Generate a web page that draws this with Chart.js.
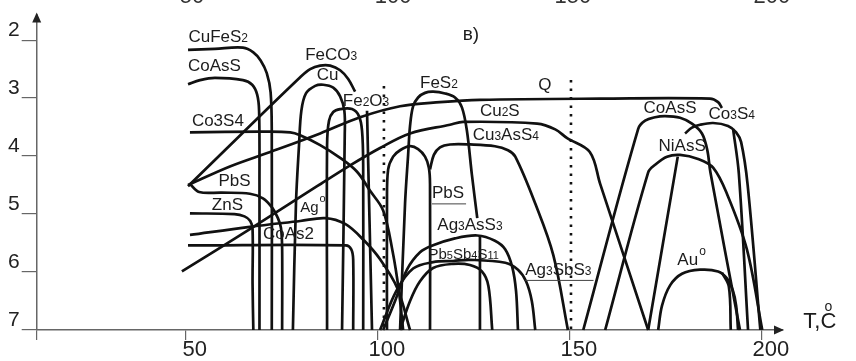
<!DOCTYPE html>
<html>
<head>
<meta charset="utf-8">
<script src="https://cdn.jsdelivr.net/npm/chart.js@4.4.1/dist/chart.umd.min.js"></script>
<style>
  html, body { margin: 0; padding: 0; background: #fff; }
</style>
</head>
<body>
<canvas id="chart" width="856" height="361"></canvas>
<script>
const FONT = "'Liberation Sans', Arial, sans-serif";

// axis ticks
const tempTicks = [50, 100, 150, 200];
const levelTicks = [2, 3, 4, 5, 6, 7];

// stability curves, [T °C, level]
const cuFeS2 = [[50.6,2.17],[57.6,2.15],[64.9,2.13],[67.6,2.21],[69.5,2.35],[71.1,2.57],[72.1,2.9],[72.4,3.6],[72.4,7.0]];
const coAsSLeft = [[50.6,2.76],[53.7,2.69],[57.6,2.65],[64.9,2.69],[67.3,2.77],[68.6,2.94],[69.1,3.22],[69.2,4.5],[69.2,7.0]];
const co3S4Left = [[51.1,3.59],[69.3,3.58],[77.2,3.59],[79.8,3.64],[85.0,3.81],[90.2,4.03],[94.6,4.27],[98.0,4.60],[101.4,4.94],[103.9,5.66],[105.5,6.33],[106.6,7.0]];
const feCO3 = [[50.6,4.52],[64.2,3.64],[79.8,2.64],[82.4,2.50],[85.0,2.44],[87.6,2.44],[90.2,2.52],[92.3,2.67],[94.1,2.89]];
const quartz = [[50.6,4.50],[61.5,4.18],[72.0,3.93],[85.0,3.61],[95.4,3.33],[105.8,3.14],[116.2,3.07],[126.6,3.03],[157.9,3.01],[186.5,3.01],[188.6,3.07],[189.6,3.17]];
const pbSLeft = [[51.1,4.48],[53.5,4.62],[59.4,4.63],[66.7,4.65],[70.1,4.73],[72.5,4.89],[74.0,5.07],[74.8,5.24],[75.1,5.6],[75.1,7.0]];
const znS = [[51.1,4.99],[62.7,5.00],[65.3,5.04],[66.8,5.12],[67.4,5.26],[67.4,6.2],[67.6,7.0]];
const ag = [[51.1,5.36],[66.7,5.22],[79.8,5.12],[86.3,5.07],[91.5,5.17],[96.2,5.44],[100.6,5.78],[105.1,6.28],[108.4,7.0]];
const coAs2 = [[50.6,5.54],[91.7,5.54],[93.1,5.61],[93.6,5.79],[93.6,7.0]];
const cu2S = [[49.0,5.99],[66.7,5.26],[84.2,4.52],[92.8,4.16],[100.6,3.86],[108.4,3.61],[118.8,3.46],[122.2,3.41],[141.5,3.44],[146.2,3.54],[149.3,3.69],[155.2,3.93],[157.9,4.48],[170.4,7.0]];
const cu = [[77.9,7.0],[78.7,4.82],[79.5,3.81],[80.1,3.22],[81.3,2.92],[83.7,2.79],[85.8,2.77],[88.4,2.82],[90.2,2.97],[91.3,3.22],[91.4,3.64],[90.7,7.0]];
const fe2O3 = [[86.8,7.0],[86.8,3.81],[87.3,3.39],[88.4,3.24],[90.2,3.19],[93.3,3.19],[95.1,3.31],[95.9,3.56],[96.2,4.15],[96.2,7.0]];
const edge98 = [[97.2,3.22],[98.5,7.0]];
const arch108 = [[102.4,7.0],[102.4,4.82],[102.7,4.23],[104.0,4.01],[105.8,3.90],[108.4,3.83],[110.5,3.88],[112.3,4.01],[113.3,4.20],[113.6,4.48],[113.6,7.0]];
const feS2 = [[105.8,7.0],[107.1,4.82],[107.9,3.98],[108.4,3.48],[109.2,3.14],[110.5,2.99],[112.3,2.91],[114.4,2.89],[117.5,2.92],[120.1,2.99],[121.9,3.16],[123.2,3.56],[124.5,4.32],[125.9,5.07]];
const cu3AsS4 = [[113.6,4.23],[114.6,3.98],[116.2,3.85],[118.8,3.80],[124.0,3.80],[130.5,3.83],[133.9,3.90],[135.8,4.01],[141.0,4.82],[145.7,5.71],[149.5,7.0]];
const ag3AsS3 = [[101.4,7.0],[104.5,6.50],[107.6,5.96],[111.0,5.66],[114.4,5.54],[120.1,5.42],[125.9,5.37],[130.5,5.46],[133.2,5.61],[135.0,5.91],[136.0,6.33],[136.5,7.0]];
const pb5Sb4S11 = [[100.6,7.0],[104.8,6.33],[109.2,5.94],[114.4,5.83],[119.6,5.81],[124.0,5.79],[133.2,5.84],[136.5,5.96],[138.6,6.16],[140.1,6.50],[141.0,7.0]];
const innerArch = [[105.8,7.0],[108.4,6.50],[111.0,6.16],[114.4,5.93],[119.6,5.86],[124.0,5.88],[127.1,5.99],[128.8,6.24],[129.8,7.0]];
const edge126 = [[126.6,5.37],[126.6,7.0]];
const coAsSRight = [[153.5,7.0],[167.8,3.53],[169.6,3.39],[172.2,3.33],[174.8,3.31],[178.7,3.34],[181.8,3.44],[184.4,3.61],[185.8,3.90],[186.6,4.28],[194.3,7.0]];
const niAsS = [[159.2,7.0],[170.4,4.28],[172.2,4.15],[175.3,4.01],[178.7,3.98],[183.4,4.05],[187.3,4.20],[190.9,4.65],[196.1,5.61],[200.1,7.0]];
const niAsSEdge = [[178.1,4.01],[170.4,7.0]];
const au = [[173.0,7.0],[174.0,6.58],[176.1,6.23],[179.2,6.03],[183.9,5.96],[188.6,5.99],[190.9,6.11],[192.5,6.33],[193.3,6.58],[193.8,7.0]];
const auEdge = [[189.6,6.01],[191.4,6.25],[191.9,7.0]];
const co3S4Right = [[180.0,3.61],[181.8,3.51],[183.9,3.46],[187.3,3.43],[191.2,3.48],[193.3,3.59],[194.6,3.76],[196.3,4.5],[199.6,7.0]];
const co3S4Edge = [[192.5,3.53],[194.0,4.3],[196.4,7.0]];

// dotted temperature markers
const mark100 = [[101.6,2.79],[101.6,7.0]];
const mark150 = [[150.3,2.69],[150.3,7.0]];

const solidCurves = [cuFeS2, coAsSLeft, co3S4Left, feCO3, quartz, pbSLeft, znS, ag, coAs2, cu2S, cu,
  fe2O3, edge98, arch108, feS2, cu3AsS4, ag3AsS3, pb5Sb4S11, innerArch, edge126, coAsSRight,
  niAsS, niAsSEdge, au, auEdge, co3S4Right, co3S4Edge];
const dottedCurves = [mark100, mark150];

// curve names; "_n" is a small index, sup adds a raised "o"
const mineralLabels = [
  { text: 'CuFeS_2', t: 50.7, v: 2.03 },
  { text: 'CoAsS', t: 50.6, v: 2.54 },
  { text: 'Co3S4', t: 51.6, v: 3.48 },
  { text: 'FeCO_3', t: 81.1, v: 2.35 },
  { text: 'Cu', t: 84.1, v: 2.69 },
  { text: 'Fe_2O_3', t: 90.9, v: 3.13 },
  { text: 'FeS_2', t: 111.0, v: 2.83 },
  { text: 'Q', t: 141.8, v: 2.86 },
  { text: 'Cu_2S', t: 126.6, v: 3.31 },
  { text: 'Cu_3AsS_4', t: 124.7, v: 3.73 },
  { text: 'в)', t: 122.1, v: 2.0, size: 19 },
  { text: 'CoAsS', t: 169.2, v: 3.26 },
  { text: 'Co_3S_4', t: 186.1, v: 3.36 },
  { text: 'NiAsS', t: 173.1, v: 3.91 },
  { text: 'PbS', t: 58.5, v: 4.51 },
  { text: 'ZnS', t: 56.8, v: 4.93 },
  { text: 'Ag', t: 79.8, v: 4.96, size: 15, sup: true },
  { text: 'CoAs2', t: 70.1, v: 5.43 },
  { text: 'PbS', t: 114.1, v: 4.73, underline: true },
  { text: 'Ag_3AsS_3', t: 115.5, v: 5.28 },
  { text: 'Pb_5Sb_4S_11', t: 113.2, v: 5.77, size: 15 },
  { text: 'Ag_3SbS_3', t: 138.4, v: 6.05, underline: true },
  { text: 'Au', t: 178.0, v: 5.88, sup: true }
];

// tick values of the panel above, only their lower edge shows
const upperTicks = [51.6, 104.0, 150.8, 202.6];

function runs(s) {
  return s.split(/(_[0-9]+)/).filter(Boolean)
    .map(p => p[0] === '_' ? [p.slice(1), true] : [p, false]);
}

const annotate = {
  id: 'annotate',
  afterDatasetsDraw(chart) {
    const { ctx, scales: { x, y } } = chart;
    ctx.save();
    ctx.fillStyle = '#1c1c1c';
    ctx.strokeStyle = '#444';
    ctx.textBaseline = 'alphabetic';
    ctx.textAlign = 'left';
    for (const lb of mineralLabels) {
      const size = lb.size || 17;
      let px = x.getPixelForValue(lb.t);
      const py = y.getPixelForValue(lb.v);
      const x0 = px;
      for (const [txt, small] of runs(lb.text)) {
        ctx.font = `${small ? Math.round(size * 0.72) : size}px ${FONT}`;
        ctx.fillText(txt, px, py);
        px += ctx.measureText(txt).width;
      }
      if (lb.sup) {
        ctx.font = `${Math.round(size * 0.7)}px ${FONT}`;
        ctx.fillText('o', px + 1, py - size * 0.62);
      }
      if (lb.underline) {
        ctx.lineWidth = 1;
        ctx.beginPath();
        ctx.moveTo(x0, py + 5.5);
        ctx.lineTo(px + 2, py + 5.5);
        ctx.stroke();
      }
    }

    // axis title
    const tx = x.getPixelForValue(210.8);
    const ty = y.getPixelForValue(6.96);
    ctx.font = `22px ${FONT}`;
    ctx.fillText('T,C', tx, ty);
    const cx = tx + ctx.measureText('T,').width;
    ctx.font = `14px ${FONT}`;
    ctx.fillText('o', cx + 4, ty - 17);

    ctx.fillStyle = '#333';
    ctx.font = `22px ${FONT}`;
    ctx.textAlign = 'center';
    upperTicks.forEach((v, i) => ctx.fillText(String(tempTicks[i]), x.getPixelForValue(v), 3));
    ctx.restore();
  },
  afterDraw(chart) {
    const { ctx, chartArea: a } = chart;
    ctx.save();
    ctx.fillStyle = '#222';
    // arrow on the level axis
    ctx.beginPath();
    ctx.moveTo(a.left, a.top - 2);
    ctx.lineTo(a.left - 4.5, a.top + 8);
    ctx.lineTo(a.left + 4.5, a.top + 8);
    ctx.closePath();
    ctx.fill();
    // arrow on the temperature axis
    ctx.beginPath();
    ctx.moveTo(a.right + 1, a.bottom);
    ctx.lineTo(a.right - 9, a.bottom - 4.5);
    ctx.lineTo(a.right - 9, a.bottom + 4.5);
    ctx.closePath();
    ctx.fill();
    ctx.restore();
  }
};

const toPoints = c => c.map(([x, y]) => ({ x, y }));

const datasets = solidCurves.map(c => ({
  data: toPoints(c),
  showLine: true,
  borderColor: '#111',
  borderWidth: 2.7,
  pointRadius: 0,
  tension: 0.35,
  clip: 8
})).concat(dottedCurves.map(c => ({
  data: toPoints(c),
  showLine: true,
  borderColor: '#111',
  borderWidth: 2.6,
  borderDash: [2.5, 6],
  pointRadius: 0,
  tension: 0,
  clip: 8
})));

const chart = new Chart(document.getElementById('chart'), {
  type: 'scatter',
  data: { datasets },
  options: {
    responsive: false,
    animation: false,
    devicePixelRatio: 1,
    events: [],
    layout: { padding: { left: 0, right: 73, top: 6, bottom: 0 } },
    plugins: { legend: { display: false }, tooltip: { enabled: false } },
    scales: {
      x: {
        type: 'linear',
        min: 11.2,
        max: 205.5,
        afterBuildTicks: s => { s.ticks = [11.2, ...tempTicks].map(value => ({ value })); },
        afterFit: s => { s.height = 31; },
        ticks: {
          callback: v => tempTicks.includes(v) ? String(v) : '',
          font: { size: 22, family: FONT },
          color: '#222',
          padding: -3,
          labelOffset: 9,
          maxRotation: 0,
          autoSkip: false
        },
        grid: { drawOnChartArea: false, tickLength: 10, color: '#666', lineWidth: 1.2 },
        border: { display: true, color: '#666', width: 1.5 }
      },
      y: {
        type: 'linear',
        reverse: true,
        min: 1.56,
        max: 7,
        afterBuildTicks: s => { s.ticks = levelTicks.map(value => ({ value })); },
        afterFit: s => { s.width = 36.7; },
        ticks: {
          font: { size: 21, family: FONT },
          color: '#222',
          padding: 2,
          labelOffset: -10
        },
        grid: { drawOnChartArea: false, tickLength: 15, color: '#666', lineWidth: 1.2 },
        border: { display: true, color: '#666', width: 1.5 }
      }
    }
  },
  plugins: [annotate]
});
</script>
</body>
</html>
